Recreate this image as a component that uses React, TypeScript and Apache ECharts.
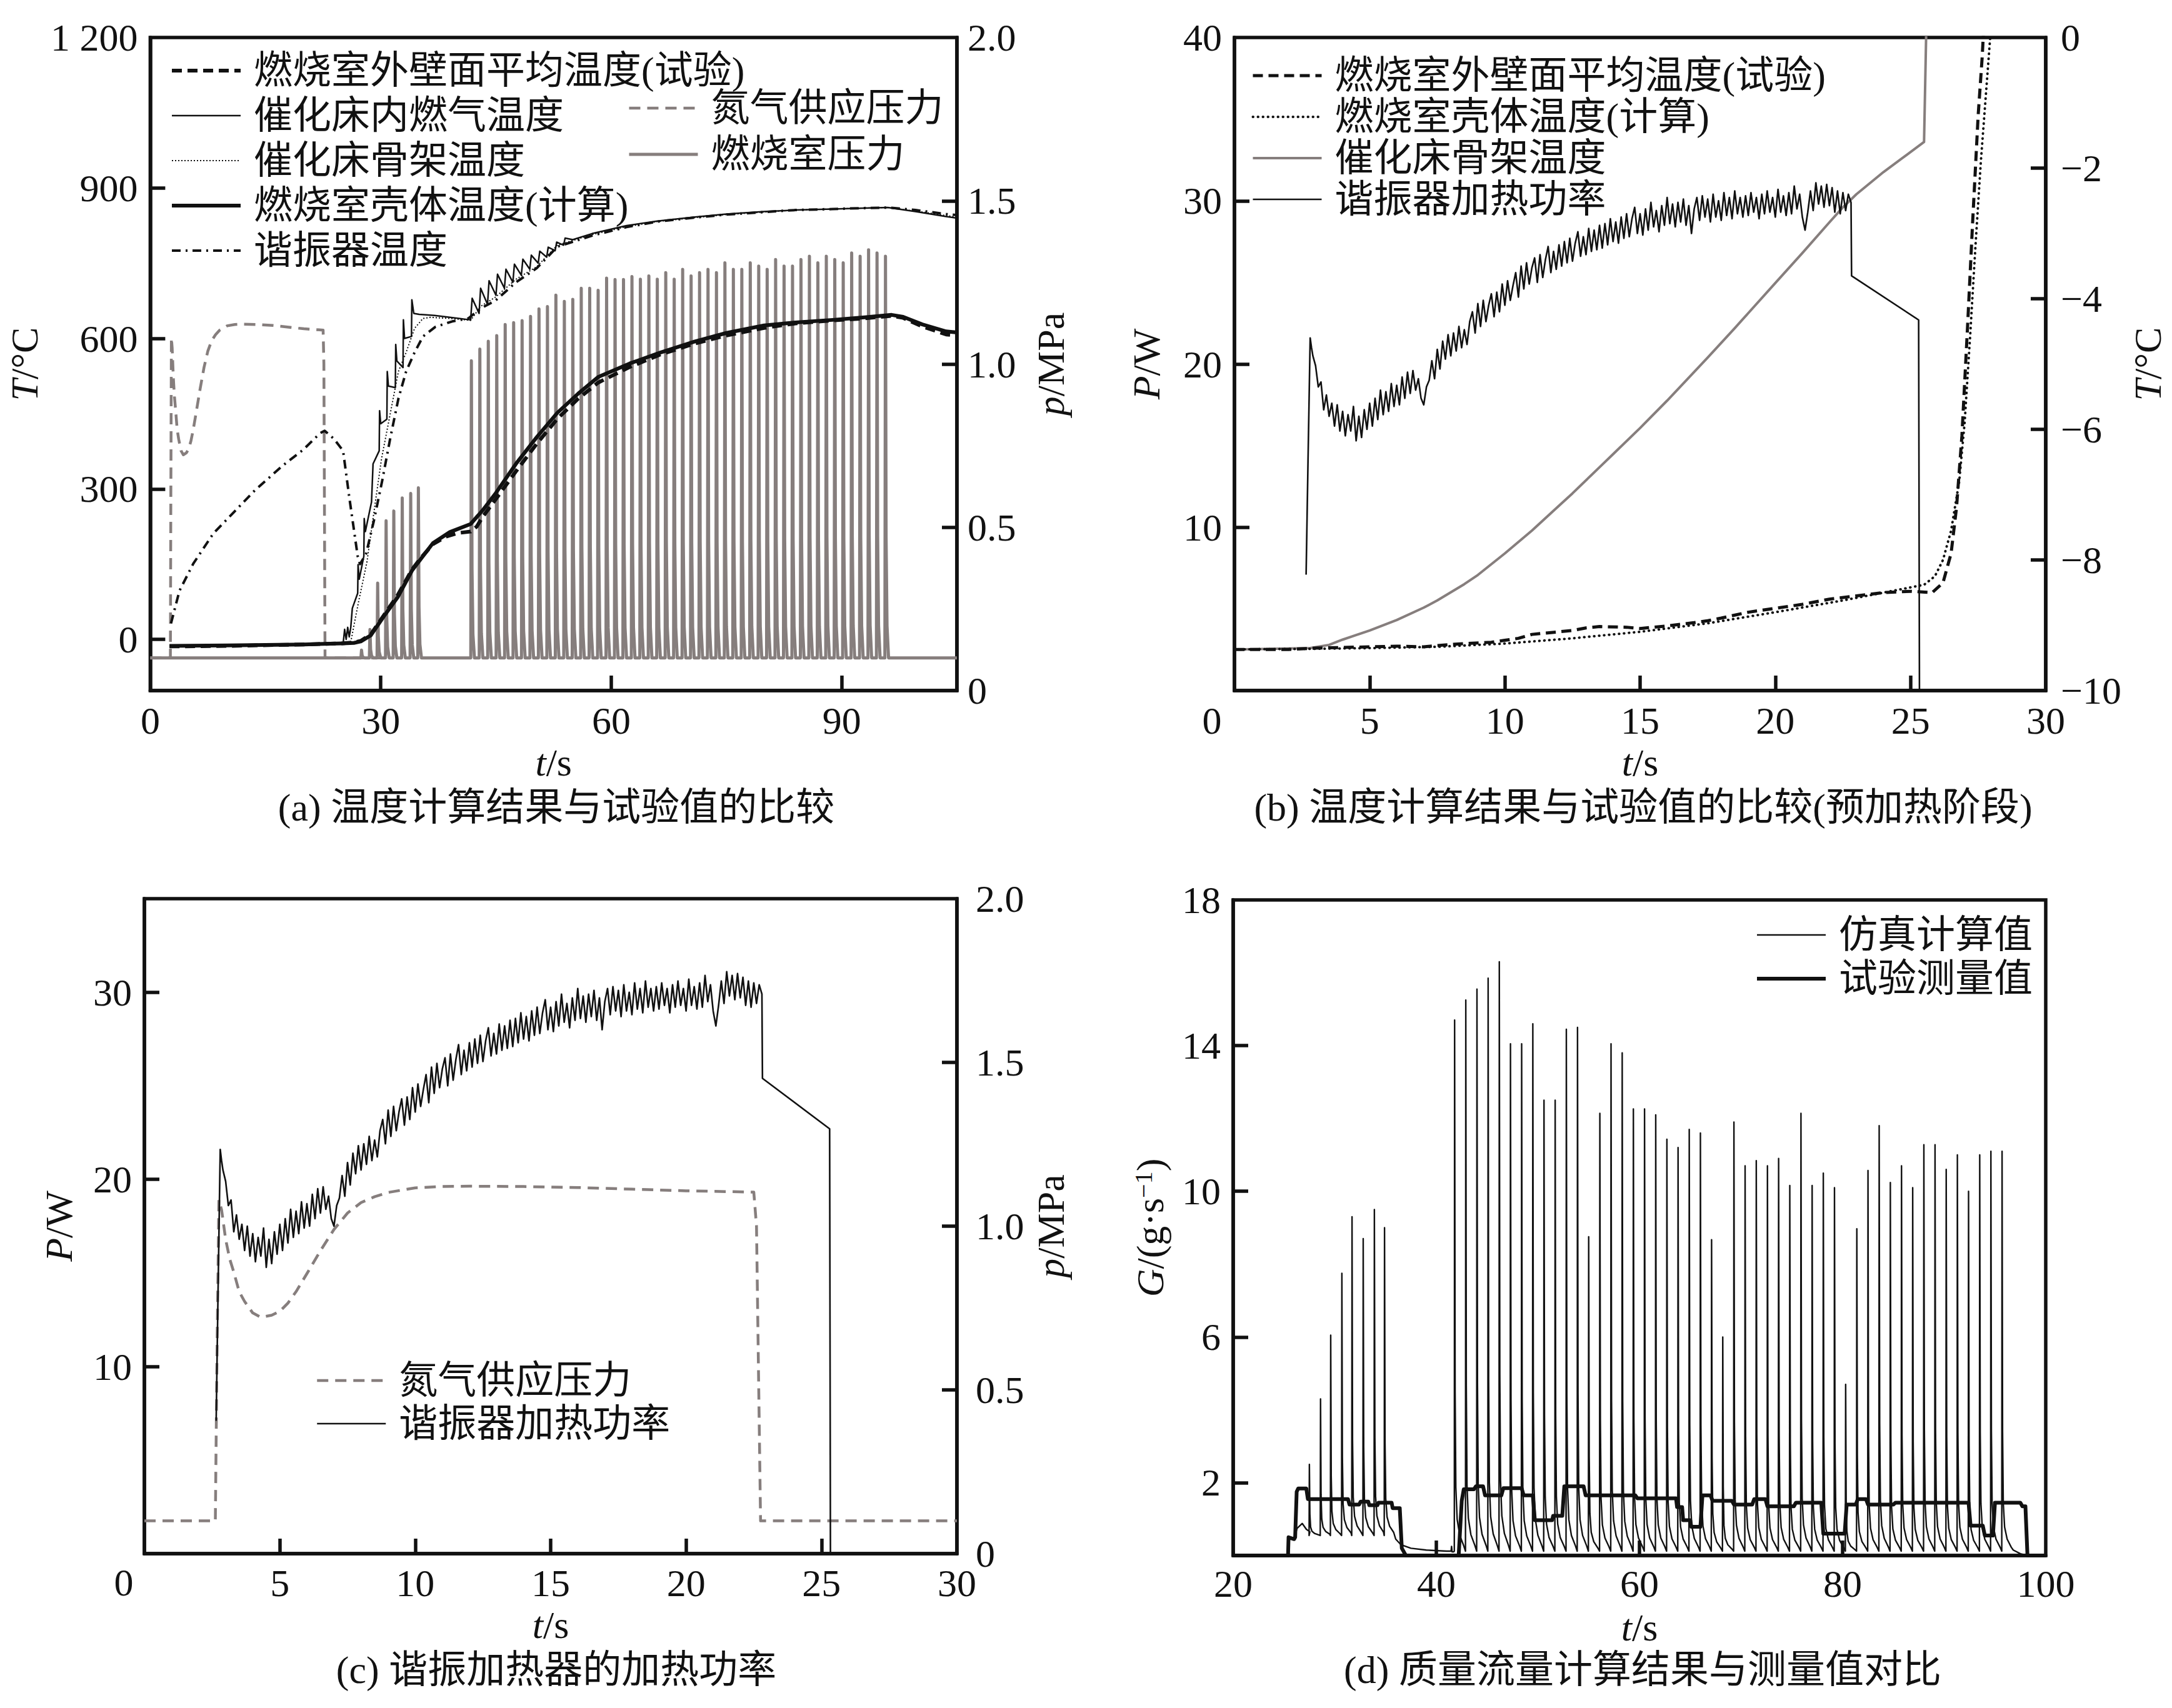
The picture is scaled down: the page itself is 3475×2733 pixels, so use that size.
import React, { useEffect, useRef } from "react";
import * as echarts from "echarts";

const FONT = "'Liberation Serif', 'Noto Sans CJK SC', serif";
const INK = "#111111";
const GRAY = "#867e7d";

// ---------------- Panel (a) data: temperature (°C) vs t (s) ----------------
const wallTestA = [[2.5,-14],[10,-13],[20,-10],[25,-8],[26.5,-6],[27.4,-3],[28.7,10],[30.4,48],[32.2,88],[34.1,140],[35.2,162],[36.8,190],[38.5,205],[40,212],[41.7,215],[42.5,225],[43.3,245],[44.9,278],[47.6,335],[50.3,390],[53,440],[55.7,480],[58.3,512],[62.4,543],[66.4,568],[70.9,590],[75,606],[79.9,621],[84,630],[88.8,636],[93,640],[96.5,645],[98,641],[100.5,624],[103.6,608],[105,606]];
const shellCalcA = [[2.5,-13],[10,-12],[20,-10],[25,-8],[26.5,-7],[27.4,-4],[28.7,8],[30.4,46],[32.2,84],[34.1,138],[35.2,160],[36.8,192],[39,214],[41.7,230],[43.3,258],[44.9,290],[47.6,350],[50.3,403],[53,452],[55.7,490],[58.3,523],[62.4,550],[66.4,572],[70.9,594],[75,611],[79.9,626],[84,632],[88.8,637],[93,642],[96.5,647],[98,643],[100.5,628],[103.6,614],[105,612]];
const gasTempA = [[2.5,-13],[10,-12],[20,-10],[24,-9],[25.1,-9],[25.3,20],[25.5,0],[25.7,24],[25.9,5],[26.1,24],[26.3,62],[27,92],[27.05,149],[27.2,120],[27.8,166],[27.85,241],[28.0,215],[28.8,274],[29.0,350],[29.8,376],[29.85,456],[30.0,430],[30.8,439],[30.85,534],[31.0,505],[31.9,502],[31.95,588],[32.1,555],[32.9,542],[32.95,637],[33.1,600],[34.0,604],[34.05,677],[34.3,650],[35,648],[37,646],[39,642],[41.7,637],[41.9,680],[42.8,650],[43.0,700],[43.9,668],[44.1,715],[45.0,686],[45.2,728],[46.1,700],[46.3,738],[47.2,712],[47.4,748],[48.3,726],[48.5,758],[49.4,738],[49.6,766],[50.5,750],[50.7,774],[51.6,762],[51.8,782],[52.7,775],[52.9,792],[53.8,786],[54,800],[55,797],[57.5,809],[62,825],[66,834],[70.9,842],[75,848],[79.9,853],[84,856],[88.8,858],[93,860],[96,861],[99.6,853],[103.6,843],[105,840]];
const skeletonTempA = [[2.5,-13],[10,-12],[20,-10],[25,-9],[26.1,-5],[27.1,74],[28.2,154],[29.1,252],[30.1,360],[31.2,447],[32.3,534],[33.3,572],[34.4,620],[35.5,640],[36.5,642],[39,640],[41.7,636],[43,664],[44.9,682],[47.6,718],[50.3,743],[53,786],[57.5,807],[62,823],[66,833],[70.9,841],[75,847],[79.9,852],[84,856],[88.8,858],[93,860],[96,861],[99.6,854],[103.6,845],[105,842]];
const resonatorTempA = [[2.7,32],[3.8,97],[5.6,151],[8.2,211],[10.9,254],[13.6,297],[17.2,346],[19.9,378],[22.1,411],[22.7,416],[23.9,400],[25.1,376],[25.9,284],[27,166],[27.3,150],[28.1,171],[29.1,236],[30.2,317],[31.2,398],[32.3,480],[33.3,534],[34.4,572],[35.5,604],[37.1,623],[39.3,634],[41.4,640],[43,660],[44.9,675],[47.6,712],[50.3,740],[53,783],[57.5,805],[62,822],[66,833],[70.9,841],[75,847],[79.9,852],[84,856],[88.8,858],[93,860],[96,861],[99.6,856],[103.6,848],[105,846]];

// nitrogen supply pressure (MPa), shared by (a) and (c)
const nitrogenP = [[0,0.1],[2.62,0.1],[2.68,0.6],[2.75,1.08],[2.85,1.05],[3.0,0.96],[3.15,0.9],[3.3,0.86],[3.5,0.8],[3.7,0.77],[4.0,0.735],[4.3,0.722],[4.7,0.728],[5.0,0.74],[5.3,0.765],[5.6,0.8],[6.0,0.855],[6.5,0.925],[7.0,0.99],[7.5,1.04],[8.0,1.072],[8.5,1.09],[9.0,1.103],[10.0,1.117],[11,1.121],[12,1.122],[14,1.121],[16,1.118],[18,1.113],[20,1.108],[22.5,1.104],[22.6,1.0],[22.75,0.1],[30,0.1]];

// combustion chamber pressure pulses (MPa)
const chamberBaseP = 0.1;
const pulseTimes1 = [27.5, 28.6, 29.6, 30.7, 31.7, 32.8, 33.9, 34.9];
const chamberPeaks1 = [0.124, 0.187, 0.329, 0.52, 0.55, 0.59, 0.604, 0.621];
const pulseTimes2 = [41.8,42.9,44.0,45.1,46.2,47.3,48.4,49.5,50.6,51.7,52.8,53.9,55.0,56.1,57.2,58.3,59.4,60.5,61.6,62.7,63.8,64.9,66.0,67.1,68.2,69.3,70.4,71.5,72.6,73.7,74.8,75.9,77.0,78.1,79.2,80.3,81.4,82.5,83.6,84.7,85.8,86.9,88.0,89.1,90.2,91.3,92.4,93.5,94.6,95.7];
const chamberPeaks2 = [1.01,1.046,1.07,1.087,1.121,1.127,1.133,1.146,1.169,1.176,1.211,1.192,1.198,1.232,1.232,1.226,1.263,1.259,1.259,1.268,1.26,1.27,1.26,1.28,1.26,1.29,1.27,1.28,1.29,1.28,1.31,1.29,1.29,1.31,1.30,1.29,1.32,1.30,1.30,1.32,1.33,1.31,1.33,1.32,1.31,1.34,1.33,1.35,1.34,1.33];
const chamberSpikeOffsets = [-0.08, 0, 0.08, 0.2, 0.4];
const chamberSpikeShape = [0, 1, 0.3, 0.08, 0];

// ---------------- Panel (b)/(c) data: resonator heating power (W) ----------------
const heatingPower = [[2.65,7.1],[2.72,14.0],[2.8,21.6],[2.85,21.0],[2.9,20.5],
[3.0,19.9],[3.1,18.6],[3.2,18.9],[3.3,17.2],[3.4,18.1],[3.5,16.8],[3.6,17.6],[3.7,16.2],[3.8,17.5],[3.9,15.9],[4.0,17.1],[4.1,15.6],[4.2,16.9],[4.3,15.9],[4.4,17.4],[4.5,15.3],[4.6,16.8],[4.7,15.5],[4.8,17.2],[4.9,16.0],
[5.0,17.6],[5.1,16.2],[5.2,17.9],[5.3,16.6],[5.4,18.4],[5.5,16.9],[5.6,18.3],[5.7,17.1],[5.8,18.8],[5.9,17.4],[6.0,18.7],[6.1,17.5],[6.2,19.2],[6.3,17.9],[6.4,19.5],[6.5,18.2],[6.6,19.6],[6.7,18.4],[6.8,19.1],[6.9,17.9],
[7.0,17.5],[7.1,18.6],[7.2,19.0],[7.3,20.2],[7.4,19.1],[7.5,20.9],[7.6,19.7],[7.7,21.4],[7.8,20.3],[7.9,21.8],[8.0,20.5],[8.1,21.9],[8.2,20.8],[8.3,22.3],[8.4,21.0],[8.5,22.1],[8.6,21.2],[8.7,22.6],[8.8,23.2],[8.9,21.9],
[9.0,23.7],[9.1,22.3],[9.2,23.9],[9.3,22.6],[9.4,23.6],[9.5,24.3],[9.6,22.9],[9.7,24.4],[9.8,23.2],[9.9,24.9],[10.0,23.6],[10.1,25.1],[10.2,23.9],[10.3,24.8],[10.4,25.6],[10.5,24.1],[10.6,26.0],[10.7,24.6],[10.8,26.2],[10.9,24.9],
[11.0,25.9],[11.1,26.5],[11.2,25.0],[11.3,26.7],[11.4,25.3],[11.5,26.4],[11.6,27.2],[11.7,25.6],[11.8,26.9],[11.9,25.8],[12.0,27.3],[12.1,26.0],[12.2,27.5],[12.3,26.2],[12.4,27.7],[12.5,26.3],[12.6,27.4],[12.7,28.1],[12.8,26.6],[12.9,27.8],
[13.0,26.7],[13.1,28.3],[13.2,26.9],[13.3,28.2],[13.4,27.0],[13.5,28.5],[13.6,27.1],[13.7,28.6],[13.8,27.3],[13.9,28.9],[14.0,27.5],[14.1,28.7],[14.2,27.4],[14.3,29.0],[14.4,27.7],[14.5,29.2],[14.6,27.8],[14.7,28.9],[14.8,29.6],[14.9,28.0],
[15.0,29.2],[15.1,27.9],[15.2,29.5],[15.3,28.2],[15.4,29.9],[15.5,28.4],[15.6,29.4],[15.7,28.1],[15.8,29.7],[15.9,28.5],[16.0,30.2],[16.1,28.6],[16.2,29.8],[16.3,28.4],[16.4,29.9],[16.5,28.7],[16.6,30.1],[16.7,28.5],[16.8,29.7],[16.9,28.0],
[17.0,29.5],[17.1,30.2],[17.2,28.8],[17.3,30.3],[17.4,29.0],[17.5,30.1],[17.6,28.7],[17.7,30.4],[17.8,29.0],[17.9,30.0],[18.0,28.8],[18.1,30.5],[18.2,29.1],[18.3,30.2],[18.4,28.9],[18.5,30.6],[18.6,29.2],[18.7,30.2],[18.8,29.0],[18.9,30.3],
[19.0,29.1],[19.1,30.5],[19.2,29.3],[19.3,30.2],[19.4,28.9],[19.5,30.4],[19.6,29.2],[19.7,30.6],[19.8,29.3],[19.9,30.2],[20.0,29.0],[20.1,30.7],[20.2,29.3],[20.3,30.3],[20.4,29.1],[20.5,30.5],[20.6,29.2],[20.7,30.9],[20.8,29.5],[20.9,30.4],
[21.0,29.0],[21.1,28.2],[21.2,29.3],[21.3,30.6],[21.4,29.4],[21.5,31.1],[21.6,29.8],[21.7,30.9],[21.8,29.6],[21.9,31.0],[22.0,29.7],[22.1,30.8],[22.2,29.3],[22.3,30.6],[22.4,29.2],[22.5,30.5],[22.6,29.4],[22.7,30.4],[22.8,29.9],
[22.82,25.4],[25.3,22.7],[25.33,0]];

// (b) temperatures on right axis (°C)
const wallTestB = [[0,-9.37],[2,-9.37],[3,-9.35],[5,-9.33],[6,-9.32],[7,-9.33],[7.5,-9.31],[8.5,-9.28],[9.5,-9.26],[10,-9.23],[10.5,-9.2],[11,-9.14],[11.5,-9.12],[12.5,-9.08],[13,-9.04],[13.5,-9.02],[14.5,-9.03],[15,-9.05],[16,-9.01],[17,-8.96],[17.5,-8.93],[18,-8.89],[19,-8.8],[20,-8.74],[21,-8.68],[22,-8.6],[23,-8.55],[24,-8.5],[25,-8.48],[25.8,-8.5],[26.2,-8.35],[26.5,-7.9],[26.7,-7.2],[26.9,-6.1],[27.1,-4.5],[27.3,-2.8],[27.5,-1.2],[27.65,-0.3],[27.75,0.5]];
const shellCalcB = [[0,-9.37],[3,-9.36],[5,-9.35],[7.5,-9.33],[10,-9.28],[12.5,-9.2],[15,-9.1],[17.5,-8.97],[20,-8.8],[22.5,-8.62],[24,-8.5],[25,-8.42],[25.5,-8.38],[25.9,-8.25],[26.2,-8.0],[26.5,-7.55],[26.8,-6.8],[27.0,-5.9],[27.2,-4.6],[27.4,-3.2],[27.6,-1.9],[27.8,-0.8],[28.0,0.3]];
const skeletonTempB = [[0,-9.37],[2.8,-9.35],[3.5,-9.3],[4,-9.22],[4.5,-9.15],[5,-9.08],[6,-8.92],[7,-8.73],[7.5,-8.62],[8.5,-8.37],[9,-8.23],[10,-7.9],[11,-7.55],[12,-7.17],[12.5,-6.98],[13.5,-6.58],[14,-6.38],[15,-5.98],[16,-5.56],[17,-5.12],[17.5,-4.9],[18.5,-4.45],[19,-4.22],[20,-3.76],[21,-3.3],[22,-2.83],[22.5,-2.6],[23,-2.4],[24,-2.06],[25.5,-1.6],[25.6,0.5]];

// ---------------- Panel (d) data: mass flow (g/s) ----------------
const measuredFlow = [[20,0],[25.4,0],[25.45,0.5],[26.0,0.45],[26.1,0.5],[26.25,1.75],[26.4,1.84],[27.2,1.84],[27.35,1.55],[31.3,1.55],[31.45,1.4],[32.4,1.4],[32.55,1.48],[33.3,1.48],[33.4,1.38],[34.2,1.38],[34.3,1.45],[35.6,1.45],[35.7,1.3],[36.4,1.3],[36.6,0.2],[37,0],[42.2,0],[42.5,1.5],[42.7,1.82],[43.7,1.82],[43.9,1.9],[44.6,1.9],[44.8,1.65],[46.4,1.65],[46.6,1.85],[48.4,1.85],[48.6,1.65],[49.5,1.65],[49.7,0.97],[51.4,0.97],[51.5,1.09],[52.4,1.09],[52.6,1.9],[54.5,1.9],[54.7,1.65],[59.6,1.65],[59.8,1.57],[63.6,1.57],[63.7,1.33],[64.2,1.33],[64.3,0.97],[65.0,0.97],[65.1,0.79],[66.0,0.79],[66.2,1.65],[67.0,1.65],[67.2,1.5],[69.1,1.5],[69.3,1.4],[71.1,1.4],[71.3,1.55],[72.4,1.55],[72.6,1.35],[75.2,1.35],[75.4,1.45],[77.9,1.45],[78.1,0.6],[80.2,0.6],[80.4,1.4],[81.3,1.4],[81.5,1.55],[82.3,1.55],[82.5,1.4],[85.0,1.4],[85.2,1.45],[92.4,1.45],[92.6,0.82],[93.8,0.82],[94.0,0.55],[94.8,0.55],[95.0,1.45],[97.5,1.45],[97.7,1.35],[98.0,1.35],[98.2,0],[100,0]];
const simFlowStart = [[20,0],[25.4,0],[25.45,0.45],[26.0,0.5],[26.3,0.75],[26.8,0.88],[27.2,0.72],[27.55,0.65]];
const simFlowPeaks1 = [2.5, 4.3, 6.05, 7.75, 9.3, 8.7, 9.5, 9.0];
const simFlowTrough1 = 0.55;
const simFlowGap = [[36,0.45],[36.5,0.3],[37.5,0.2],[39,0.15],[41,0.12],[41.45,0.12],[41.5,0.25],[41.55,0.1],[41.7,0.1]];
const simFlowPeaks2 = [14.7,15.25,15.55,15.85,16.3,14.05,14.05,14.6,12.5,12.5,14.45,14.5,8.75,12.14,14.05,13.8,12.26,12.26,12.1,11.43,11.2,11.7,11.6,8.67,6.0,11.9,10.7,10.84,10.7,10.9,10.16,12.14,10.16,10.5,10.1,4.7,8.97,10.57,11.8,10.24,10.7,10.1,11.28,11.28,10.6,11.0,10.0,11.0,11.1,11.1];
const simFlowTrough2 = 0.12;
const simFlowEnd = [[96.8,0.15],[97.5,0.05],[98.2,0],[100,0]];
const flowSpikeOffsets = [-0.03, 0, 0.05, 0.12, 0.25, 0.5, 0.9];
const flowSpikeShape = [0, 1, 0.3, 0.12, 0.06, 0.03, 0.01];

// ---------------- helpers ----------------
function buildSpikes(times: number[], peaks: number[], base: number, offsets: number[], shape: number[]) {
  const pts: number[][] = [];
  times.forEach((t, i) => {
    offsets.forEach((o, j) => pts.push([+(t + o).toFixed(3), base + shape[j] * (peaks[i] - base)]));
  });
  return pts;
}

const chamberPressure = [
  [0, chamberBaseP],
  ...buildSpikes(pulseTimes1, chamberPeaks1, chamberBaseP, chamberSpikeOffsets, chamberSpikeShape),
  ...buildSpikes(pulseTimes2, chamberPeaks2, chamberBaseP, chamberSpikeOffsets, chamberSpikeShape),
  [105, chamberBaseP],
];

const simFlow = [
  ...simFlowStart,
  ...buildSpikes(pulseTimes1, simFlowPeaks1, simFlowTrough1, flowSpikeOffsets, flowSpikeShape),
  ...simFlowGap,
  ...buildSpikes(pulseTimes2, simFlowPeaks2, simFlowTrough2, flowSpikeOffsets, flowSpikeShape),
  ...simFlowEnd,
];

const RICH = {
  i: { fontStyle: "italic", fontSize: 62, fontFamily: FONT, color: INK },
  sup: { fontSize: 40, fontFamily: FONT, color: INK, verticalAlign: "top" },
};

function axis(o: any) {
  return {
    type: "value",
    min: o.min,
    max: o.max,
    position: o.position,
    name: o.name || "",
    nameLocation: "middle",
    nameGap: o.nameGap,
    nameRotate: o.nameRotate,
    nameTextStyle: { color: INK, fontSize: 62, fontFamily: FONT, rich: RICH },
    axisLine: { show: true, onZero: false, lineStyle: { color: INK, width: 5.5 } },
    axisTick: { show: true, inside: true, length: 24, customValues: o.ticks, lineStyle: { color: INK, width: 5.5 } },
    axisLabel: {
      show: true,
      customValues: o.labels,
      formatter: o.fmt || ((v: number) => String(v)),
      color: INK,
      fontSize: 62,
      fontFamily: FONT,
      margin: o.margin ?? 18,
    },
    splitLine: { show: false },
  };
}

function line(name: string, data: any, color: string, width: number, type: any, yAxisIndex = 0, z = 3, cap = "butt") {
  return {
    type: "line",
    name,
    data,
    yAxisIndex,
    symbol: "none",
    showSymbol: false,
    smooth: false,
    silent: true,
    clip: true,
    z,
    lineStyle: { color, width, type, cap, join: "round" },
    itemStyle: { color },
    emphasis: { disabled: true },
  };
}

function legend(names: string[], left: number, top: number, itemGap: number) {
  return {
    data: names,
    orient: "vertical",
    left,
    top,
    itemWidth: 110,
    itemHeight: 16,
    itemGap,
    padding: 0,
    selectedMode: false,
    itemStyle: { opacity: 0, borderWidth: 0 },
    lineStyle: { width: "inherit", type: "inherit", color: "inherit", cap: "inherit" },
    textStyle: { color: INK, fontSize: 62, fontFamily: FONT, lineHeight: 66, padding: [0, 0, 0, 16] },
  };
}

function txt(text: string, x: number, y: number) {
  return {
    type: "text",
    x,
    y,
    silent: true,
    style: { text, font: `62px ${FONT}`, fill: INK, textAlign: "center", textVerticalAlign: "middle" },
  };
}

const gridStyle = { show: true, borderColor: INK, borderWidth: 5.5, backgroundColor: "transparent" };
const fmtP = (v: number) => (v === 0 ? "0" : v.toFixed(1));

const N_TEST = "燃烧室外壁面平均温度(试验)";
const N_GAS = "催化床内燃气温度";
const N_SKEL = "催化床骨架温度";
const N_SHELL = "燃烧室壳体温度(计算)";
const N_RES = "谐振器温度";
const N_N2 = "氮气供应压力";
const N_CHP = "燃烧室压力";
const N_POW = "谐振器加热功率";

const optA = {
  animation: false,
  backgroundColor: "#ffffff",
  grid: { left: 231, top: 60, width: 1300, height: 1045, ...gridStyle },
  xAxis: axis({ min: 0, max: 105, ticks: [30, 60, 90], labels: [0, 30, 60, 90], name: "{i|t}/s", nameGap: 82, margin: 17 }),
  yAxis: [
    axis({ min: -102, max: 1200, ticks: [0, 300, 600, 900], labels: [0, 300, 600, 900, 1200], fmt: (v: number) => (v === 1200 ? "1 200" : String(v)), position: "left", name: "{i|T}/°C", nameGap: 161, nameRotate: 90, margin: 20 }),
    axis({ min: 0, max: 2, ticks: [0.5, 1, 1.5], labels: [0, 0.5, 1, 1.5, 2], fmt: fmtP, position: "right", name: "{i|p}/MPa", nameGap: 119, nameRotate: 90, margin: 17 }),
  ],
  legend: [
    legend([N_TEST, N_GAS, N_SKEL, N_SHELL, N_RES], 272, 80, 6),
    legend([N_N2, N_CHP], 1004, 140, 8),
  ],
  series: [
    line(N_CHP, chamberPressure, GRAY, 5, "solid", 1, 1),
    line(N_N2, nitrogenP, GRAY, 4.5, [18, 11], 1, 1),
    line(N_TEST, wallTestA, INK, 6, [16, 9], 0, 3),
    line(N_GAS, gasTempA, INK, 2.5, "solid", 0, 3),
    line(N_SKEL, skeletonTempA, INK, 2, [2, 3], 0, 3),
    line(N_SHELL, shellCalcA, INK, 6, "solid", 0, 3),
    line(N_RES, resonatorTempA, INK, 4, [14, 8, 3, 8], 0, 3),
  ],
  graphic: [txt("(a) 温度计算结果与试验值的比较", 890, 1292)],
};

const optB = {
  animation: false,
  backgroundColor: "#ffffff",
  grid: { left: 238, top: 60, width: 1298, height: 1045, ...gridStyle },
  xAxis: axis({ min: 0, max: 30, ticks: [5, 10, 15, 20, 25], labels: [5, 10, 15, 20, 25, 30], name: "{i|t}/s", nameGap: 82, margin: 17 }),
  yAxis: [
    axis({ min: 0, max: 40, ticks: [10, 20, 30], labels: [10, 20, 30, 40], position: "left", name: "{i|P}/W", nameGap: 110, nameRotate: 90, margin: 20 }),
    axis({ min: -10, max: 0, ticks: [-8, -6, -4, -2], labels: [-10, -8, -6, -4, -2, 0], fmt: (v: number) => (v === 0 ? "0" : "−" + Math.abs(v)), position: "right", name: "{i|T}/°C", nameGap: 129, nameRotate: 90, margin: 24 }),
  ],
  legend: [legend([N_TEST, N_SHELL, N_SKEL, N_POW], 265, 88, 0)],
  series: [
    line(N_SKEL, skeletonTempB, GRAY, 4, "solid", 1, 2),
    line(N_TEST, wallTestB, INK, 5, [16, 9], 1, 3),
    line(N_SHELL, shellCalcB, INK, 4, [0.5, 7.5], 1, 3, "round"),
    line(N_POW, heatingPower, INK, 2.6, "solid", 0, 3),
  ],
  graphic: [txt("0", 202, 1153), txt("(b) 温度计算结果与试验值的比较(预加热阶段)", 892, 1292)],
};

const optC = {
  animation: false,
  backgroundColor: "#ffffff",
  grid: { left: 231, top: 72, width: 1300, height: 1048, ...gridStyle },
  xAxis: axis({ min: 0, max: 30, ticks: [5, 10, 15, 20, 25], labels: [5, 10, 15, 20, 25, 30], name: "{i|t}/s", nameGap: 83, margin: 16 }),
  yAxis: [
    axis({ min: 0, max: 35, ticks: [10, 20, 30], labels: [10, 20, 30], position: "left", name: "{i|P}/W", nameGap: 106, nameRotate: 90, margin: 20 }),
    axis({ min: 0, max: 2, ticks: [0.5, 1, 1.5], labels: [0, 0.5, 1, 1.5, 2], fmt: fmtP, position: "right", name: "{i|p}/MPa", nameGap: 119, nameRotate: 90, margin: 30 }),
  ],
  legend: [legend([N_N2, N_POW], 505, 810, 3)],
  series: [
    line(N_N2, nitrogenP, GRAY, 4.5, [18, 11], 1, 2),
    line(N_POW, heatingPower, INK, 2.6, "solid", 0, 3),
  ],
  graphic: [txt("0", 198, 1166), txt("(c) 谐振加热器的加热功率", 890, 1306)],
};

const N_SIM = "仿真计算值";
const N_MEAS = "试验测量值";

const optD = {
  animation: false,
  backgroundColor: "#ffffff",
  grid: { left: 236, top: 74, width: 1300, height: 1049, ...gridStyle },
  xAxis: axis({ min: 20, max: 100, ticks: [40, 60, 80], labels: [20, 40, 60, 80, 100], name: "{i|t}/s", nameGap: 84, margin: 14 }),
  yAxis: [
    axis({ min: 0, max: 18, ticks: [2, 6, 10, 14], labels: [2, 6, 10, 14, 18], position: "left", name: "{i|G}/(g·s{sup|−1})", nameGap: 102, nameRotate: 90, margin: 20 }),
  ],
  legend: [legend([N_SIM, N_MEAS], 1071, 97, 4)],
  series: [
    line(N_SIM, simFlow, INK, 2.4, "solid", 0, 2),
    line(N_MEAS, measuredFlow, INK, 6, "solid", 0, 3),
  ],
  graphic: [txt("(d) 质量流量计算结果与测量值对比", 891, 1306)],
};

function Panel({ option, style }: { option: any; style: React.CSSProperties }) {
  const ref = useRef<HTMLDivElement>(null);
  useEffect(() => {
    if (!ref.current) return;
    const chart = echarts.init(ref.current, null, { renderer: "svg" });
    chart.setOption(option);
    return () => chart.dispose();
  }, [option]);
  return <div ref={ref} style={style} />;
}

export default function App() {
  return (
    <div style={{ position: "absolute", left: 0, top: 0, width: 3475, height: 2733, background: "#ffffff", overflow: "hidden" }}>
      <Panel option={optA} style={{ position: "absolute", left: 0, top: 0, width: 1737, height: 1366 }} />
      <Panel option={optB} style={{ position: "absolute", left: 1737, top: 0, width: 1738, height: 1366 }} />
      <Panel option={optC} style={{ position: "absolute", left: 0, top: 1366, width: 1737, height: 1367 }} />
      <Panel option={optD} style={{ position: "absolute", left: 1737, top: 1366, width: 1738, height: 1367 }} />
    </div>
  );
}
